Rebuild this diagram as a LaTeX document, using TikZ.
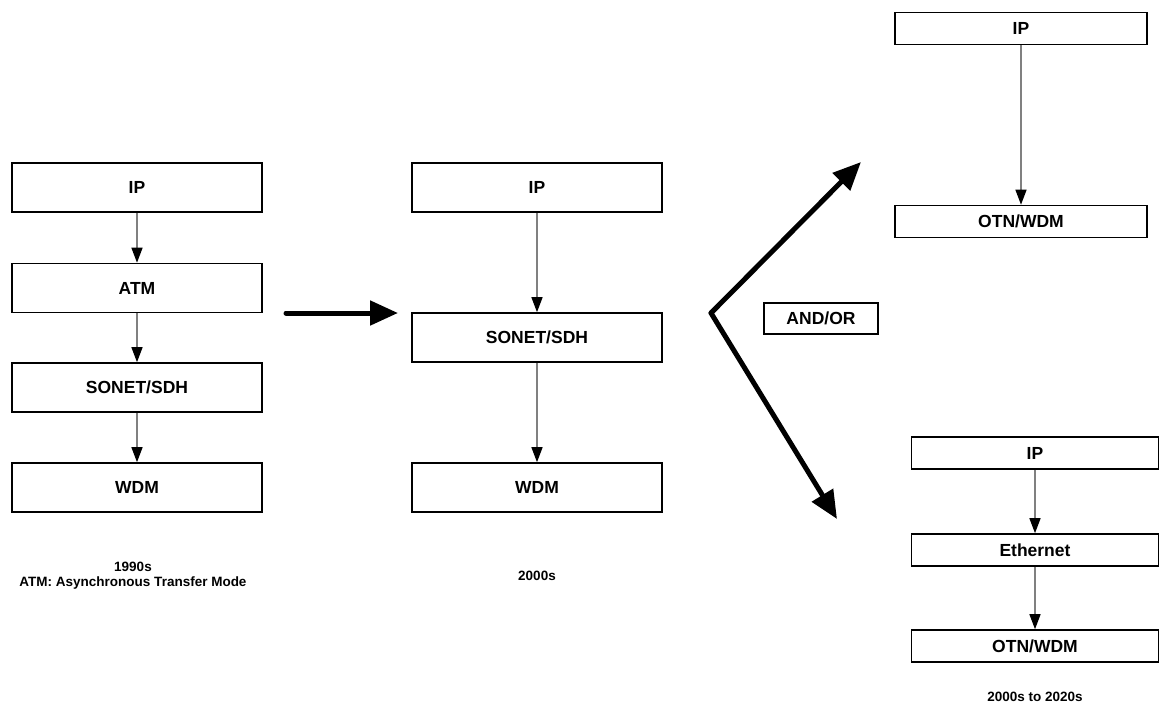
\documentclass[tikz,border=0pt]{standalone}
\usepackage{fontspec}
\setmainfont{Liberation Sans}
\usetikzlibrary{arrows.meta}

\tikzset{
  layer/.style={draw=black, line width=1.6pt, fill=white, inner sep=0pt,
    font=\fontsize{17.5}{20}\selectfont\bfseries},
  widebox/.style={layer, minimum width=250pt, minimum height=49pt},
  slimbox/.style={layer, minimum width=250pt, minimum height=32pt},
  caption/.style={font=\fontsize{13.5}{15}\selectfont\bfseries, align=center, inner sep=0pt},
  stackarrow/.style={draw=black!50, line width=1.4pt,
    -{Triangle[length=15pt, width=11pt, color=black]}},
  evolution/.style={draw=black, line width=5pt, line cap=round, line join=miter,
    -{Triangle[length=28pt, width=24pt]}}
}

\begin{document}
\begin{tikzpicture}[x=1pt, y=-1pt]
  \useasboundingbox (0,0) rectangle (1160,705);

  % 1990s stack
  \node[widebox] (a1) at (137,187.5) {IP};
  \node[widebox] (a2) at (137,288)   {ATM};
  \node[widebox] (a3) at (137,387.5) {SONET/SDH};
  \node[widebox] (a4) at (137,487.5) {WDM};
  \draw[stackarrow] (a1) -- (a2);
  \draw[stackarrow] (a2) -- (a3);
  \draw[stackarrow] (a3) -- (a4);
  \node[caption] (capA) at (133,576) {1990s\\ATM: Asynchronous Transfer Mode};

  % 2000s stack
  \node[widebox] (b1) at (537,187.5) {IP};
  \node[widebox] (b2) at (537,337.5) {SONET/SDH};
  \node[widebox] (b3) at (537,487.5) {WDM};
  \draw[stackarrow] (b1) -- (b2);
  \draw[stackarrow] (b2) -- (b3);
  \node[caption] (capB) at (537,576) {2000s};

  % transition 1990s -> 2000s
  \coordinate (h0) at (286,313);
  \coordinate (h1) at (398,313);
  \draw[evolution] (h0) -- (h1);

  % branching transition towards the two later stacks
  \coordinate (v0) at (711,313);
  \coordinate (vu) at (861,162);
  \coordinate (vd) at (837,519);
  \draw[evolution] (v0) -- (vu);
  \draw[evolution] (v0) -- (vd);
  \node[layer, minimum width=114pt, minimum height=31pt] (andor) at (821,318.5) {AND/OR};

  % IP over OTN/WDM
  \node[slimbox, minimum width=252pt] (c1) at (1021,28.5)  {IP};
  \node[slimbox, minimum width=252pt] (c2) at (1021,221.5) {OTN/WDM};
  \draw[stackarrow] (c1) -- (c2);

  % IP over Ethernet over OTN/WDM
  \node[slimbox, minimum width=247pt] (d1) at (1035,453) {IP};
  \node[slimbox, minimum width=247pt] (d2) at (1035,550) {Ethernet};
  \node[slimbox, minimum width=247pt] (d3) at (1035,646) {OTN/WDM};
  \draw[stackarrow] (d1) -- (d2);
  \draw[stackarrow] (d2) -- (d3);
  \node[caption] (capD) at (1035,697) {2000s to 2020s};
\end{tikzpicture}
\end{document}
